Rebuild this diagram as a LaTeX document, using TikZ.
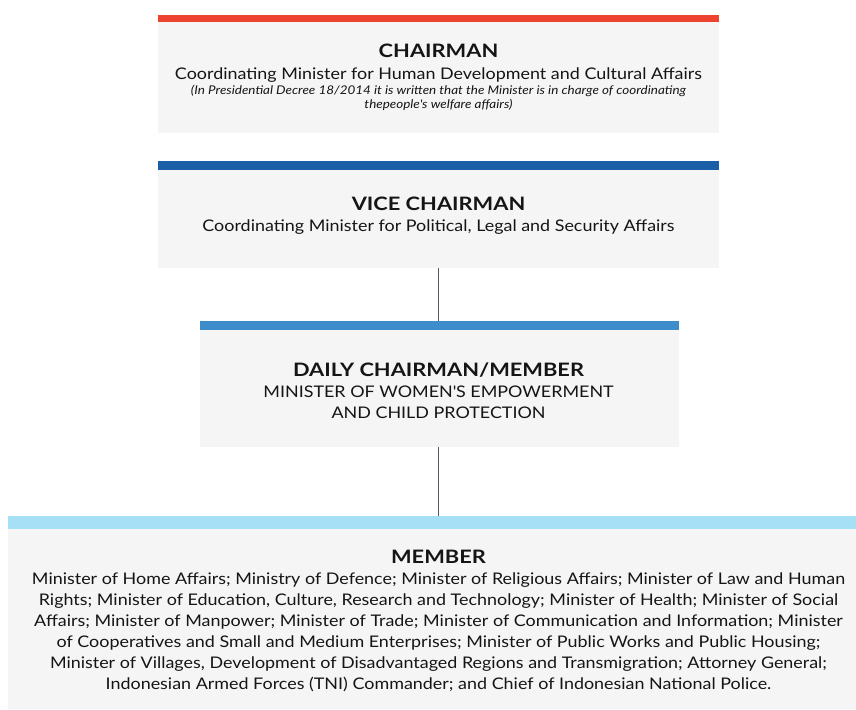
\documentclass[tikz,border=0pt]{standalone}
\usepackage{fontspec}
\setmainfont{Lato}[FakeStretch=1.12,BoldFeatures={FakeStretch=1.18}]
\definecolor{boxgray}{HTML}{F5F5F5}
\definecolor{barred}{HTML}{EE442F}
\definecolor{bardark}{HTML}{1A5FA8}
\definecolor{barmid}{HTML}{3D8DCB}
\definecolor{barlight}{HTML}{A5E0F6}
\definecolor{linkgray}{HTML}{4D5661}
\definecolor{txt}{HTML}{151515}
\begin{document}
\begin{tikzpicture}[x=1pt,y=-1pt,
  panel/.style={fill=boxgray,draw=none,inner sep=0pt,outer sep=0pt,anchor=north west},
  topbar/.style={draw=none,inner sep=0pt,outer sep=0pt,anchor=north west},
  title/.style={anchor=base,inner sep=0pt,text=txt,font=\fontsize{18.5}{22}\selectfont\bfseries},
  body/.style={anchor=base,inner sep=0pt,text=txt,align=center,font=\fontsize{16}{21}\selectfont},
  note/.style={anchor=base,inner sep=0pt,text=txt,align=center,font=\fontsize{12}{14}\selectfont\itshape},
  link/.style={draw=linkgray,line width=1.6pt}]
\useasboundingbox (0,0) rectangle (856,709);
% chairman
\node[topbar,fill=barred,minimum width=561pt,minimum height=7.5pt] (chbar) at (158,15) {};
\node[panel,minimum width=561pt,minimum height=111pt] (ch) at (158,22) {};
\node[title] (cht) at (438.5,57) {CHAIRMAN};
\node[body] (chs) at (438.5,79) {Coordinating Minister for Human Development and Cultural Affairs};
\node[note] (chn) at (438.5,108) {(In Presidential Decree 18/2014 it is written that the Minister is in charge of coordinating\\thepeople\textquotesingle s welfare affairs)};
% vice chairman
\node[topbar,fill=bardark,minimum width=561pt,minimum height=8.5pt] (vcbar) at (158,161) {};
\node[panel,minimum width=561pt,minimum height=98pt] (vc) at (158,169.5) {};
\node[title] (vct) at (438.5,210) {VICE CHAIRMAN};
\node[body] (vcs) at (438.5,231) {Coordinating Minister for Political, Legal and Security Affairs};
% daily chairman
\node[topbar,fill=barmid,minimum width=479pt,minimum height=9pt] (dcbar) at (200,321) {};
\node[panel,minimum width=479pt,minimum height=117pt] (dc) at (200,330) {};
\node[title] (dct) at (438.5,376) {DAILY CHAIRMAN/MEMBER};
\node[body] (dcs) at (438.5,418) {MINISTER OF WOMEN\textquotesingle S EMPOWERMENT\\AND CHILD PROTECTION};
% member
\node[topbar,fill=barlight,minimum width=848pt,minimum height=12.5pt] (mbbar) at (8,516) {};
\node[panel,minimum width=848pt,minimum height=180.5pt] (mb) at (8,528.5) {};
\node[title] (mbt) at (438.5,563) {MEMBER};
\node[body] (mbs) at (438.5,689) {Minister of Home Affairs; Ministry of Defence; Minister of Religious Affairs; Minister of Law and Human\\Rights; Minister of Education, Culture, Research and Technology; Minister of Health; Minister of Social\\Affairs; Minister of Manpower; Minister of Trade; Minister of Communication and Information; Minister\\of Cooperatives and Small and Medium Enterprises; Minister of Public Works and Public Housing;\\Minister of Villages, Development of Disadvantaged Regions and Transmigration; Attorney General;\\Indonesian Armed Forces (TNI) Commander; and Chief of Indonesian National Police.};
% connectors
\draw[link] (vc.south) -- (vc.south |- dcbar.north);
\draw[link] (vc.south |- dc.south) -- (vc.south |- mbbar.north);
\end{tikzpicture}
\end{document}
